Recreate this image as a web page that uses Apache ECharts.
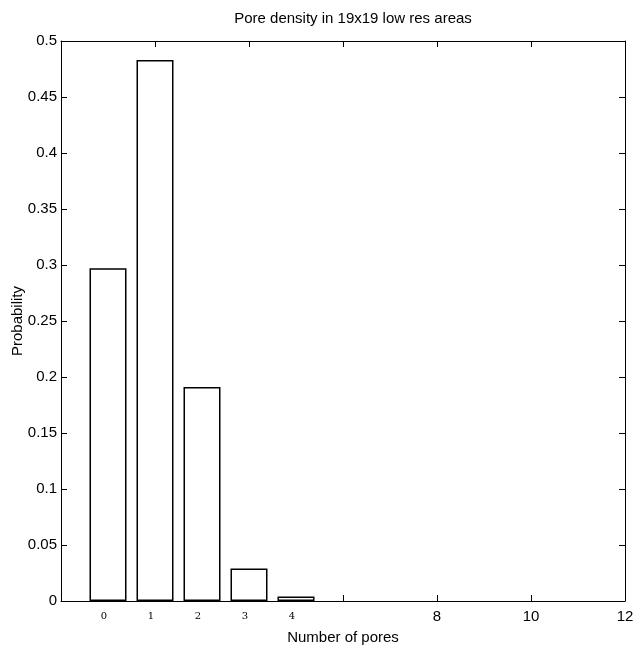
<!DOCTYPE html>
<html>
<head>
<meta charset="utf-8">
<script src="https://cdn.jsdelivr.net/npm/echarts@6/dist/echarts.min.js"></script>
<style>
  html, body { margin: 0; padding: 0; background: #fff; }
  #chart { width: 642px; height: 650px; }
</style>
</head>
<body>
<div id="chart"></div>
<script>
// number of pores per area and the probability
const poreCounts = [0, 1, 2, 3, 4];
const barPositions = [1, 2, 3, 4, 5];
const probabilities = [0.297, 0.483, 0.191, 0.029, 0.004];
const yTicks = ["0", "0.05", "0.1", "0.15", "0.2", "0.25", "0.3", "0.35", "0.4", "0.45", "0.5"];
const xLabelsShown = [8, 10, 12];

const font = "Liberation Sans, Arial, sans-serif";
const chart = echarts.init(document.getElementById("chart"), null, { renderer: "canvas" });

const frameLine = { show: true, onZero: false, lineStyle: { color: "#000", width: 1 } };
const tickIn = { show: true, inside: true, length: 6, lineStyle: { color: "#000", width: 1 } };

chart.setOption({
  animation: false,
  backgroundColor: "#fff",
  title: {
    text: "Pore density in 19x19 low res areas",
    left: 348,
    textAlign: "center",
    top: 6,
    textStyle: { fontFamily: font, fontSize: 15, fontWeight: "normal", color: "#000" }
  },
  grid: { left: 61, right: 17, top: 41, bottom: 49, containLabel: false, outerBoundsMode: "none" },
  xAxis: [
    {
      type: "value",
      min: 0,
      max: 12,
      interval: 2,
      position: "bottom",
      name: "Number of pores",
      nameLocation: "middle",
      nameGap: 29,
      nameMoveOverlap: false,
      nameTextStyle: { fontFamily: font, fontSize: 15, color: "#000" },
      axisLine: frameLine,
      axisTick: tickIn,
      splitLine: { show: false },
      axisLabel: {
        fontFamily: font,
        fontSize: 15,
        color: "#000",
        margin: 8,
        showMinLabel: true,
        showMaxLabel: true,
        formatter: v => (xLabelsShown.indexOf(v) >= 0 ? String(v) : "")
      }
    },
    {
      // small serif labels under each bar
      type: "value",
      min: 0,
      max: 12,
      interval: 1,
      position: "bottom",
      axisLine: { show: false },
      axisTick: { show: false },
      splitLine: { show: false },
      axisLabel: {
        fontFamily: "DejaVu Serif, Liberation Serif, serif",
        fontSize: 10,
        color: "#000",
        margin: 10,
        padding: [0, 8, 0, 0],
        formatter: v => {
          const i = barPositions.indexOf(v);
          return i >= 0 ? String(poreCounts[i]) : "";
        }
      }
    },
    {
      type: "value",
      min: 0,
      max: 12,
      interval: 2,
      position: "top",
      axisLine: frameLine,
      axisTick: tickIn,
      axisLabel: { show: false },
      splitLine: { show: false }
    }
  ],
  yAxis: [
    {
      type: "value",
      min: 0,
      max: 0.5,
      interval: 0.05,
      position: "left",
      name: "Probability",
      nameLocation: "middle",
      nameGap: 36,
      nameMoveOverlap: false,
      nameRotate: 90,
      nameTextStyle: { fontFamily: font, fontSize: 15, color: "#000" },
      axisLine: frameLine,
      axisTick: tickIn,
      splitLine: { show: false },
      axisLabel: {
        fontFamily: font,
        fontSize: 15,
        color: "#000",
        margin: 4,
        formatter: v => yTicks[Math.round(v / 0.05)]
      }
    },
    {
      type: "value",
      min: 0,
      max: 0.5,
      interval: 0.05,
      position: "right",
      axisLine: frameLine,
      axisTick: tickIn,
      axisLabel: { show: false },
      splitLine: { show: false }
    }
  ],
  series: [
    {
      type: "bar",
      xAxisIndex: 0,
      yAxisIndex: 0,
      barWidth: 37,
      data: barPositions.map((x, i) => [x, probabilities[i]]),
      itemStyle: { color: "#fff", borderColor: "#000", borderWidth: 1.5 }
    }
  ]
});
</script>
</body>
</html>
